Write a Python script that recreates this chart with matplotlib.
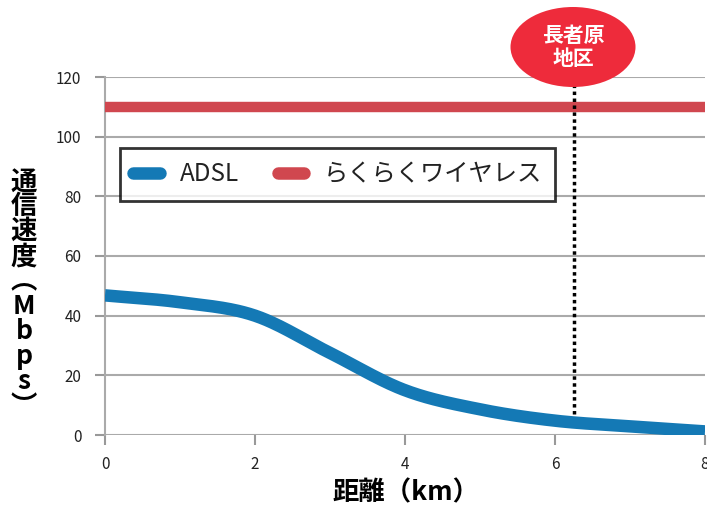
import numpy as np
import matplotlib.pyplot as plt
from matplotlib.patches import Ellipse

plt.rcParams['font.family'] = ['Noto Sans CJK JP', 'DejaVu Sans']

dist = [0, 1, 2, 3, 4, 5, 6, 7, 8]
adsl = [46.8, 44.5, 40.0, 27.5, 15.0, 8.6, 4.8, 2.9, 1.2]
wireless = [110, 110]
wireless_x = [0, 8]
area_x = 6.25
area_label = "長者原\n地区"
yticks = [0, 20, 40, 60, 80, 100, 120]
xticks = [0, 2, 4, 6, 8]


def catmull_rom(x, y, n=40):
    # smoothed line through the points, like a spreadsheet "smooth line"
    p = np.column_stack([x, y]).astype(float)
    p = np.vstack([p[0] - (p[1] - p[0]), p, p[-1] + (p[-1] - p[-2])])
    out = []
    t = np.linspace(0, 1, n)[:, None]
    for i in range(1, len(p) - 2):
        p0, p1, p2, p3 = p[i-1], p[i], p[i+1], p[i+2]
        seg = 0.5 * ((2*p1) + (-p0 + p2)*t + (2*p0 - 5*p1 + 4*p2 - p3)*t**2
                     + (-p0 + 3*p1 - 3*p2 + p3)*t**3)
        out.append(seg)
    out = np.vstack(out)
    return out[:, 0], out[:, 1]


fig = plt.figure(figsize=(7.07, 5.09), dpi=100)
ax = fig.add_axes([105/707, 1-435/509, 600/707, 358/509])

cx, cy = catmull_rom(dist, adsl)
ax.plot(cx, cy, color='#1479b5', lw=9, solid_capstyle='butt',
        label='ADSL', zorder=3)
ax.plot(wireless_x, wireless, color='#d0474f', lw=7.5, solid_capstyle='butt',
        label='らくらくワイヤレス', zorder=3)
ax.plot([area_x, area_x], [7, 118], color='black', lw=2.5, ls=(0, (1, 1)), zorder=4)

ax.set_xlim(0, 8)
ax.set_ylim(0, 120)
ax.set_xticks(xticks)
ax.set_yticks(yticks)
ax.tick_params(axis='both', colors='#999999', labelcolor='#222222', labelsize=11,
               length=7, width=1.5, direction='out')
ax.tick_params(axis='x', pad=8)
ax.tick_params(axis='y', pad=10)
ax.grid(axis='y', color='#aaaaaa', lw=1.5)
ax.set_axisbelow(True)
for s in ['top', 'right', 'bottom']:
    ax.spines[s].set_visible(False)
ax.spines['left'].set_color('#aaaaaa')
ax.spines['left'].set_linewidth(1.5)

leg = ax.legend(loc='upper left', bbox_to_anchor=(15/600, 287/358), ncol=2,
                fontsize=17.5, frameon=True, fancybox=False, handlelength=1.1,
                columnspacing=1.6, handletextpad=0.8, borderpad=0.55,
                borderaxespad=0)
leg.get_frame().set_edgecolor('black')
leg.get_frame().set_linewidth(2)
for h in leg.get_lines():
    h.set_solid_capstyle('round')
    h.set_linewidth(9)
for t in leg.get_texts():
    t.set_color('#222222')

# red label ellipse above the dotted line
ell = Ellipse((573/707, 1-47/509), 125/707, 80/509, transform=fig.transFigure,
              facecolor='#ee2b3b', edgecolor='none', zorder=5)
fig.patches.append(ell)
fig.text(573/707, 1-47/509, area_label, ha='center', va='center', color='white',
         fontsize=15, fontweight='bold', linespacing=1.1, zorder=6)

fig.text(24/707, 1-294/509, "\n".join("通信速度︵Mbps︶"), ha='center', va='center',
         fontsize=19, fontweight='bold', linespacing=0.9)
fig.text(406/707, 1-493/509, "距離（km）", ha='center', va='center',
         fontsize=19, fontweight='bold')

fig.savefig('out.png', dpi=100)
